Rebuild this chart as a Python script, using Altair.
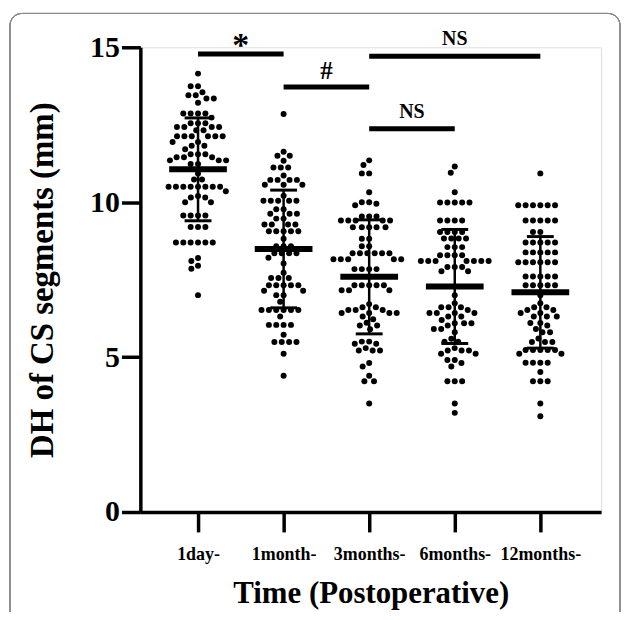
import math
import altair as alt
import pandas as pd

categories = ["1day-", "1month-", "3months-", "6months-", "12months-"]

g1 = [14.15, 13.74, 13.74, 13.55, 13.45, 13.45, 13.35, 13.35, 13.21,
      12.86, 12.86, 12.86, 12.86, 12.73, 12.55, 12.55, 12.55,
      12.43, 12.43, 12.43, 12.43, 12.32, 12.32,
      12.13, 12.13, 12.13, 12.13, 12.13, 12.13, 11.94, 11.94, 11.82, 11.82, 11.71,
      11.55, 11.55, 11.55, 11.45, 11.45, 11.45, 11.35, 11.35, 11.35, 11.23, 11.23,
      10.93, 10.73, 10.73, 10.50, 10.50, 10.50, 10.50, 10.50, 10.50, 10.50, 10.50,
      10.35, 10.2, 10.0, 10.15, 10.15, 10.0, 9.57, 9.57, 9.57, 9.57, 9.2, 9.2, 9.2,
      8.7, 8.7, 8.7, 8.7, 8.7, 8.7, 8.2, 8.1, 7.95, 7.85, 7.0]
g2 = [12.85, 11.63, 11.5, 11.5, 11.34, 11.12, 11.12, 11.12, 10.86,
      10.72, 10.72, 10.72, 10.72, 10.56, 10.56, 10.56, 10.21,
      10.05, 10.05, 10.05, 10.05, 10.05, 9.77, 9.77, 9.63, 9.63, 9.63, 9.47, 9.47,
      9.28, 9.28, 9.28, 9.28, 9.06, 9.06, 9.06, 9.06, 9.06, 8.82,
      8.58, 8.58, 8.58, 8.35, 8.35, 8.35, 8.35, 8.21, 8.02, 7.72, 7.55, 7.55, 7.55,
      7.32, 7.32, 7.32, 7.32, 7.32, 7.14, 7.14, 7.0, 7.0, 6.79,
      6.52, 6.52, 6.52, 6.52, 6.52, 6.52, 6.31, 6.04, 6.04, 6.04, 6.04, 5.72,
      5.49, 5.49, 5.49, 5.49, 5.11, 4.4]
g3 = [11.35, 11.2, 10.93, 10.93, 10.32, 10.0, 10.0, 9.9, 9.95, 9.54, 9.54, 9.54,
      9.41, 9.41, 9.41, 9.41, 9.41, 9.19, 9.19, 9.19, 9.19, 9.19, 8.82, 8.82, 8.58, 8.58,
      8.35, 8.35, 8.35, 8.35, 8.35, 8.35, 8.16, 8.16, 8.16, 8.16, 8.16,
      7.84, 7.84, 7.84, 7.84, 7.32, 7.32, 7.32, 7.32, 7.32, 7.16, 7.16, 7.16,
      6.71, 6.61, 6.61, 6.52, 6.52, 6.52, 6.42, 6.42, 6.42, 6.42, 6.31, 6.22, 6.11,
      6.02, 6.02, 5.9, 5.5, 5.5, 5.43, 5.43, 5.29, 5.21, 5.21, 5.21, 4.81, 4.7, 4.4,
      4.22, 4.22, 3.5]
g4 = [11.15, 10.95, 10.32, 9.99, 9.99, 9.99, 9.99, 9.99, 9.41, 9.41, 9.41, 9.41,
      9.04, 9.04, 9.04, 9.04, 8.83, 8.83, 8.83, 8.83, 8.55, 8.55, 8.55,
      8.29, 8.29, 8.29, 8.29, 8.1, 8.1, 8.1, 8.1, 8.1, 8.1, 8.1, 7.91, 7.91, 7.91,
      7.77, 7.77, 7.0,
      6.74, 6.61, 6.61, 6.61, 6.52, 6.42, 6.42, 6.42, 6.42, 6.31, 6.31, 6.2,
      6.09, 6.09, 6.09, 6.02, 5.91, 5.91, 5.8, 5.59, 5.5, 5.5, 5.29, 5.21, 5.21, 5.21,
      5.11, 5.11, 4.91, 4.91, 4.81, 4.7, 4.22, 4.22, 4.22, 3.5, 3.2]
g5 = [10.93, 9.9, 9.9, 9.9, 9.9, 9.9, 9.9, 9.41, 9.41, 9.41, 9.41, 9.41, 9.04, 9.04,
      8.7, 8.7, 8.7, 8.7, 8.7, 8.38, 8.38, 8.38, 8.38, 8.38,
      8.06, 8.06, 8.06, 8.06, 8.06, 8.06, 7.6, 7.6, 7.6, 7.6, 7.6,
      7.32, 7.32, 7.32, 7.32, 7.32, 7.0,
      6.74, 6.61, 6.61, 6.52, 6.52, 6.42, 6.42, 6.31, 6.31, 6.31, 6.1, 6.1, 6.02, 5.91,
      5.8, 5.8, 5.6, 5.49, 5.49, 5.49, 5.23, 5.23, 5.23, 5.23, 5.23, 5.11, 5.11,
      4.82, 4.82, 4.82, 4.82, 4.52, 4.22, 4.22, 4.22, 3.5, 3.09]
groups = [g1, g2, g3, g4, g5]

means = [11.06, 8.49, 7.59, 7.28, 7.09]
sds = [1.66, 1.90, 1.84, 1.84, 1.80]

sig_labels = ["*", "#", "NS", "NS"]
sig_from = [1, 2, 3, 3]
sig_to = [2, 3, 5, 4]
sig_level = [14.78, 13.72, 14.71, 12.37]

# ---- layout ----
W, H = 463, 467
X_MIN, X_MAX = 0.326, 5.71
Y_MAX = 15
px_x = W / (X_MAX - X_MIN)
px_y = H / Y_MAX
DOT = 7.4


def swarm(values):
    placed = []
    offs = []
    for v in values:
        yp = v * px_y
        intervals = []
        for (xp, yq) in placed:
            dy = abs(yp - yq)
            if dy < DOT:
                h = math.sqrt(DOT * DOT - dy * dy)
                intervals.append((xp - h, xp + h))
        cands = [0.0] + [a for a, b in intervals] + [b for a, b in intervals]
        cands.sort(key=lambda c: (abs(c), c))
        best = 0.0
        for c in cands:
            if all(not (a + 1e-6 < c < b - 1e-6) for a, b in intervals):
                best = c
                break
        placed.append((best, yp))
        offs.append(best)
    return offs


rows = []
for i, vals in enumerate(groups):
    order = sorted(vals, reverse=True)
    offs = swarm(order)
    for v, o in zip(order, offs):
        rows.append({"pos": i + 1 + o / px_x, "value": v, "group": categories[i]})
points = pd.DataFrame(rows)

summary = pd.DataFrame({
    "pos": list(range(1, 6)),
    "mean": means,
    "lo": [m - s for m, s in zip(means, sds)],
    "hi": [m + s for m, s in zip(means, sds)],
})

sig = pd.DataFrame({
    "label": sig_labels, "x1": sig_from, "x2": sig_to, "level": sig_level,
    "mid": [(a + b) / 2 for a, b in zip(sig_from, sig_to)],
})

FONT = "Liberation Serif"
label_arr = "[" + ",".join("'" + c + "'" for c in categories) + "]"

xscale = alt.Scale(domain=[X_MIN, X_MAX], nice=False, zero=False)
yscale = alt.Scale(domain=[0, Y_MAX], nice=False)

xaxis = alt.Axis(values=[1, 2, 3, 4, 5], labelExpr=label_arr + "[datum.value-1]",
                 tickSize=20, tickWidth=3.5, domainWidth=3.5, domainColor="black",
                 tickColor="black", labelColor="black", labelFont=FONT,
                 labelFontWeight="bold", labelFontSize=18, labelPadding=14,
                 grid=False, title="Time (Postoperative)", titleFont=FONT,
                 titleFontWeight="bold", titleFontSize=31, titleColor="black",
                 titlePadding=15)
yaxis = alt.Axis(values=[0, 5, 10, 15], tickSize=19, tickWidth=3.5, domainWidth=3.5,
                 domainColor="black", tickColor="black", labelColor="black",
                 labelFont=FONT, labelFontWeight="bold", labelFontSize=30,
                 labelPadding=2, grid=False, title="DH of CS segments (mm)",
                 titleFont=FONT, titleFontWeight="bold", titleFontSize=33,
                 titleColor="black", titlePadding=30)

base_pts = alt.Chart(points).mark_circle(size=36, color="black", opacity=1).encode(
    x=alt.X("pos:Q", scale=xscale, axis=xaxis),
    y=alt.Y("value:Q", scale=yscale, axis=yaxis),
)

sd_rule = alt.Chart(summary).mark_rule(color="black", strokeWidth=2.5).encode(
    x=alt.X("pos:Q", scale=xscale), y=alt.Y("lo:Q", scale=yscale), y2="hi:Q")
cap_hi = alt.Chart(summary).mark_tick(orient="horizontal", size=27, thickness=3,
                                      color="black", opacity=1).encode(
    x=alt.X("pos:Q", scale=xscale), y=alt.Y("hi:Q", scale=yscale))
cap_lo = alt.Chart(summary).mark_tick(orient="horizontal", size=27, thickness=3,
                                      color="black", opacity=1).encode(
    x=alt.X("pos:Q", scale=xscale), y=alt.Y("lo:Q", scale=yscale))
mean_tick = alt.Chart(summary).mark_tick(orient="horizontal", size=58, thickness=6,
                                         color="black", opacity=1).encode(
    x=alt.X("pos:Q", scale=xscale), y=alt.Y("mean:Q", scale=yscale))

sig_bar = alt.Chart(sig).mark_rule(color="black", strokeWidth=5).encode(
    x=alt.X("x1:Q", scale=xscale), x2="x2:Q", y=alt.Y("level:Q", scale=yscale))
sig_star = alt.Chart(sig[sig["label"] == "*"]).mark_text(
    font=FONT, fontWeight="bold", fontSize=34, color="black", baseline="alphabetic",
    dy=2).encode(x=alt.X("mid:Q", scale=xscale), y=alt.Y("level:Q", scale=yscale),
                 text="label:N")
sig_hash = alt.Chart(sig[sig["label"] == "#"]).mark_text(
    font=FONT, fontWeight="bold", fontSize=25, color="black", baseline="alphabetic",
    dy=-8).encode(x=alt.X("mid:Q", scale=xscale), y=alt.Y("level:Q", scale=yscale),
                  text="label:N")
sig_txt = alt.Chart(sig[sig["label"] == "NS"]).mark_text(
    font=FONT, fontWeight="bold", fontSize=20, color="black", baseline="alphabetic",
    dy=-11).encode(x=alt.X("mid:Q", scale=xscale), y=alt.Y("level:Q", scale=yscale),
                   text="label:N")

frame = alt.Chart(summary).mark_rect(fillOpacity=0, stroke="#8c8c8c", strokeWidth=1,
                                     cornerRadius=12).encode(
    x=alt.value(-131), x2=alt.value(482), y=alt.value(-34), y2=alt.value(620))

chart = alt.layer(frame, sd_rule, cap_hi, cap_lo, base_pts, mean_tick, sig_bar,
                  sig_star, sig_hash, sig_txt).properties(
    width=W, height=H, autosize="none",
    padding={"left": 133, "top": 38, "right": 20, "bottom": 99},
).configure_view(stroke=None).configure(background="white")

chart.save("out.html", embed_options={"renderer": "svg", "actions": False})
